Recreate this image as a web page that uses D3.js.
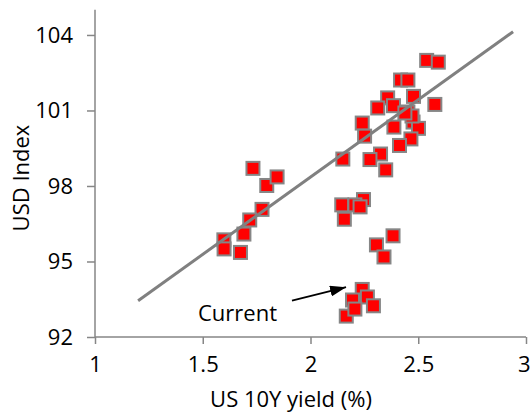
<!DOCTYPE html>
<html><head><meta charset="utf-8">
<script src="https://cdn.jsdelivr.net/npm/d3@7/dist/d3.min.js"></script>
<style>body{margin:0;background:#fff}svg{display:block}</style>
</head><body><div id="chart"></div>
<script>
// US 10Y yield (%)
const yieldVals = [2.539,2.593,2.418,2.452,2.358,2.478,2.577,2.312,2.385,2.240,2.251,2.387,2.476,2.501,2.466,2.413,2.150,2.325,2.276,2.349,1.733,1.797,1.845,1.775,1.718,1.691,1.598,1.599,1.675,2.145,2.246,2.206,2.157,2.306,2.383,2.341,2.240,2.195,2.264,2.292,2.166,2.206,2.452,2.471,2.230,2.438];
// USD Index
const usdVals = [102.99,102.92,102.21,102.21,101.50,101.56,101.24,101.10,101.19,100.50,99.98,100.34,100.54,100.29,99.87,99.61,99.07,99.27,99.05,98.64,98.70,98.02,98.36,97.07,96.65,96.09,95.86,95.50,95.36,97.25,97.46,97.25,96.68,95.66,96.02,95.18,93.89,93.47,93.59,93.24,92.83,93.11,100.94,100.78,97.17,100.90];
const trendX = [1.2, 2.94];
const trendY = [93.44, 104.13];
const xTicks = [1, 1.5, 2, 2.5, 3];
const yTicks = [92, 95, 98, 101, 104];
const xDomain = [1, 3];
const yDomain = [92, 105];
const annText = "Current";
const annTextPos = [1.478, 92.65];
const annArrowFrom = [1.914, 93.45];
const annArrowTo = [2.165, 93.98];
const xTitle = "US 10Y yield (%)";
const yTitle = "USD Index";

const W = 531, H = 414;
const FONT = "Open Sans, sans-serif";
const FS = "22px";
const svg = d3.select("#chart").append("svg").attr("width", W).attr("height", H);
const x = d3.scaleLinear().domain(xDomain).range([95, 526]);
const y = d3.scaleLinear().domain(yDomain).range([337, 9.8]);
const axisColor = "#868686";

const xAxis = svg.append("g").attr("transform", `translate(0,${y(92)})`)
  .call(d3.axisBottom(x).tickValues(xTicks).tickSize(7).tickPadding(12).tickFormat(d3.format("")));
const yAxis = svg.append("g").attr("transform", `translate(${x(1)},0)`)
  .call(d3.axisLeft(y).tickValues(yTicks).tickSize(8).tickPadding(14).tickFormat(d3.format("d")));
[xAxis, yAxis].forEach(g => {
  g.select(".domain").attr("stroke", axisColor).attr("stroke-width", 1.5);
  g.selectAll(".tick line").attr("stroke", axisColor).attr("stroke-width", 1.5);
  g.selectAll(".tick text").attr("fill", "#000").style("font-family", FONT).style("font-size", FS);
});
yAxis.select(".domain").attr("d", `M0,${y(105)}V${y(92)}`);
xAxis.select(".domain").attr("d", `M${x(1)},0H${x(3)}`);
// keep last x label inside the window
xAxis.selectAll(".tick").filter(d => d === xDomain[1]).select("text")
  .attr("text-anchor", "end").attr("x", W - x(xDomain[1]) - 1);

svg.append("text").attr("x", 291).attr("y", 407).attr("text-anchor", "middle")
  .style("font-family", FONT).style("font-size", FS).text(xTitle);
svg.append("text").attr("transform", `translate(29,178) rotate(-90)`).attr("text-anchor", "middle")
  .style("font-family", FONT).style("font-size", FS).text(yTitle);

const pts = yieldVals.map((v, i) => ({x: v, y: usdVals[i]}));
const s = 13;
svg.append("g").selectAll("rect").data(pts).join("rect")
  .attr("x", d => x(d.x) - s/2).attr("y", d => y(d.y) - s/2)
  .attr("width", s).attr("height", s)
  .attr("fill", "#ff0000").attr("stroke", "#868686").attr("stroke-width", 2);

svg.append("line")
  .attr("x1", x(trendX[0])).attr("y1", y(trendY[0]))
  .attr("x2", x(trendX[1])).attr("y2", y(trendY[1]))
  .attr("stroke", "#808080").attr("stroke-width", 3);

svg.append("defs").append("marker").attr("id", "arr")
  .attr("viewBox", "0 0 16 11").attr("refX", 16).attr("refY", 5.5)
  .attr("markerWidth", 16).attr("markerHeight", 11).attr("markerUnits", "userSpaceOnUse")
  .attr("orient", "auto").append("path").attr("d", "M0,0L16,5.5L0,11Z").attr("fill", "#000");
svg.append("line")
  .attr("x1", x(annArrowFrom[0])).attr("y1", y(annArrowFrom[1]))
  .attr("x2", x(annArrowTo[0])).attr("y2", y(annArrowTo[1]))
  .attr("stroke", "#000").attr("stroke-width", 1.8).attr("marker-end", "url(#arr)");
svg.append("text").attr("x", x(annTextPos[0])).attr("y", y(annTextPos[1]))
  .style("font-family", FONT).style("font-size", FS).text(annText);
</script></body></html>
